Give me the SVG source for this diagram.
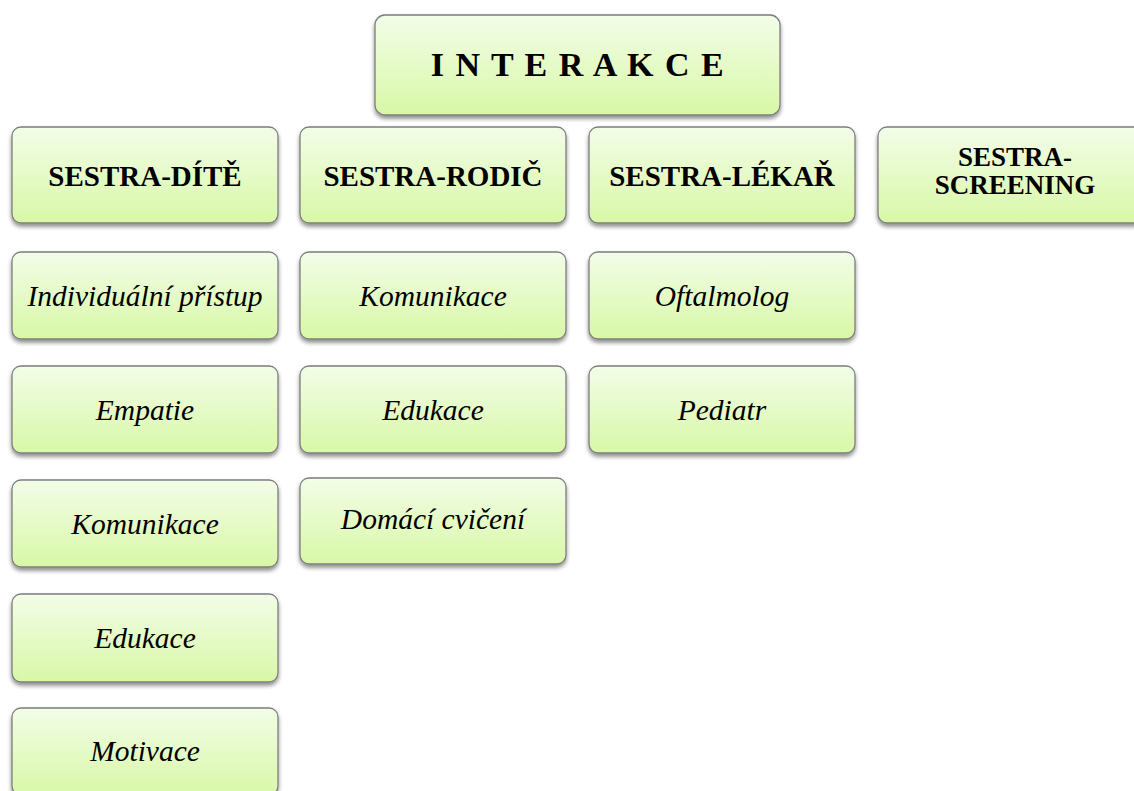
<svg xmlns="http://www.w3.org/2000/svg" width="1134" height="791" viewBox="0 0 1134 791">
<defs>
<linearGradient id="g" x1="0" y1="0" x2="0" y2="1">
<stop offset="0" stop-color="#f3fde8"/>
<stop offset="1" stop-color="#d8f8a6"/>
</linearGradient>
<filter id="sh" x="-10%" y="-10%" width="120%" height="130%">
<feGaussianBlur in="SourceAlpha" stdDeviation="2"/>
<feOffset dx="0" dy="3" result="b"/>
<feComponentTransfer><feFuncA type="linear" slope="0.45"/></feComponentTransfer>
<feMerge><feMergeNode/><feMergeNode in="SourceGraphic"/></feMerge>
</filter>
</defs>
<style>
.box{fill:url(#g);stroke:#7d7d7d;stroke-width:1.3;filter:url(#sh)}
.h{font-family:"Liberation Serif","Times New Roman",serif;font-weight:bold;font-size:29px;fill:#000;text-anchor:middle}
.s{font-family:"Liberation Serif","Times New Roman",serif;font-weight:bold;font-size:27px;fill:#000;text-anchor:middle}
.t{font-family:"Liberation Serif","Times New Roman",serif;font-style:italic;font-size:29.5px;fill:#000;text-anchor:middle}
.top{font-family:"Liberation Serif","Times New Roman",serif;font-weight:bold;font-size:34px;letter-spacing:1.5px;fill:#000;text-anchor:middle}
</style>
<rect width="1134" height="791" fill="#ffffff"/>
<g id="connectors"></g>
<g id="interakce"><rect class="box" x="375" y="15" width="405" height="100" rx="10"/><text class="top" x="578" y="76">I N T E R A K C E</text></g>
<g id="sestra-dite"><rect class="box" x="12" y="127" width="266" height="96" rx="9"/><text class="h" x="145" y="186">SESTRA-DÍTĚ</text></g>
<g id="sestra-rodic"><rect class="box" x="300" y="127" width="266" height="96" rx="9"/><text class="h" x="433" y="186">SESTRA-RODIČ</text></g>
<g id="sestra-lekar"><rect class="box" x="589" y="127" width="266" height="96" rx="9"/><text class="h" x="722" y="186">SESTRA-LÉKAŘ</text></g>
<g id="sestra-screening"><rect class="box" x="878" y="127" width="266" height="96" rx="9"/><text class="s" x="1015" y="166">SESTRA-</text><text class="s" x="1015" y="194">SCREENING</text></g>
<g id="individualni"><rect class="box" x="12" y="252" width="266" height="87" rx="9"/><text class="t" x="145" y="306">Individuální přístup</text></g>
<g id="empatie"><rect class="box" x="12" y="366" width="266" height="87" rx="9"/><text class="t" x="145" y="420">Empatie</text></g>
<g id="komunikace1"><rect class="box" x="12" y="480" width="266" height="87" rx="9"/><text class="t" x="145" y="534">Komunikace</text></g>
<g id="edukace1"><rect class="box" x="12" y="594" width="266" height="88" rx="9"/><text class="t" x="145" y="648">Edukace</text></g>
<g id="motivace"><rect class="box" x="12" y="708" width="266" height="87" rx="9"/><text class="t" x="145" y="761">Motivace</text></g>
<g id="komunikace2"><rect class="box" x="300" y="252" width="266" height="87" rx="9"/><text class="t" x="433" y="306">Komunikace</text></g>
<g id="edukace2"><rect class="box" x="300" y="366" width="266" height="87" rx="9"/><text class="t" x="433" y="420">Edukace</text></g>
<g id="domaci"><rect class="box" x="300" y="478" width="266" height="86" rx="9"/><text class="t" x="433" y="529">Domácí cvičení</text></g>
<g id="oftalmolog"><rect class="box" x="589" y="252" width="266" height="87" rx="9"/><text class="t" x="722" y="306">Oftalmolog</text></g>
<g id="pediatr"><rect class="box" x="589" y="366" width="266" height="87" rx="9"/><text class="t" x="722" y="420">Pediatr</text></g>
</svg>
